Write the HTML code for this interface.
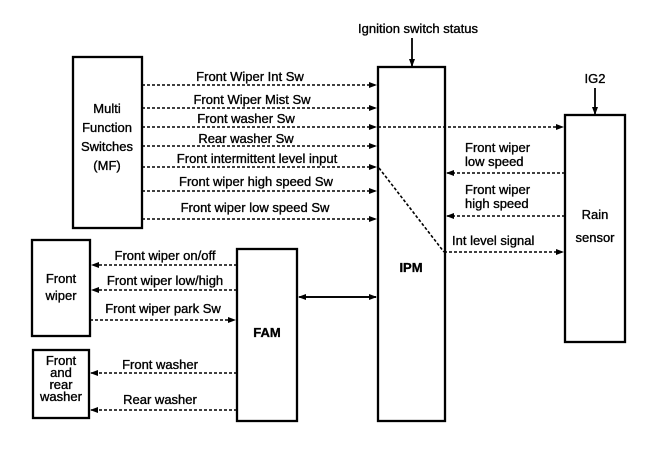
<!DOCTYPE html>
<html><head><meta charset="utf-8"><style>
html,body{margin:0;padding:0;background:#fff;}
svg{display:block;}
text{font-family:"Liberation Sans",sans-serif;font-size:13px;fill:#000;stroke:#000;stroke-width:0.35;}
</style></head><body>
<svg width="672" height="450" viewBox="0 0 672 450" xmlns="http://www.w3.org/2000/svg">
<defs>
<marker id="a" markerWidth="8" markerHeight="6" refX="7" refY="3" orient="auto" markerUnits="userSpaceOnUse"><path d="M0,0 L8,3 L0,6 z" fill="#000"/></marker>
</defs>
<g fill="none" stroke="#000" stroke-width="2.3">
<rect x="73" y="57" width="69" height="171"/>
<rect x="378" y="67" width="67" height="354"/>
<rect x="565" y="115" width="60" height="227"/>
<rect x="32" y="240" width="58" height="96"/>
<rect x="237" y="249" width="60" height="172"/>
<rect x="33" y="350" width="56" height="68"/>
</g>
<g stroke="#000" stroke-width="1.6" stroke-dasharray="3,2" fill="none">
<line x1="142" y1="85" x2="376" y2="85" marker-end="url(#a)"/>
<line x1="142" y1="108" x2="376" y2="108" marker-end="url(#a)"/>
<line x1="142" y1="127" x2="376" y2="127" marker-end="url(#a)"/>
<line x1="378" y1="127" x2="563" y2="127" marker-end="url(#a)"/>
<line x1="142" y1="146" x2="376" y2="146" marker-end="url(#a)"/>
<line x1="142" y1="167" x2="376" y2="167" marker-end="url(#a)"/>
<line x1="142" y1="191" x2="376" y2="191" marker-end="url(#a)"/>
<line x1="142" y1="219" x2="376" y2="219" marker-end="url(#a)"/>
<line x1="379" y1="168" x2="444" y2="252"/>
<line x1="444" y1="252" x2="563" y2="252" marker-end="url(#a)"/>
<line x1="565" y1="173" x2="447" y2="173" marker-end="url(#a)"/>
<line x1="565" y1="216" x2="447" y2="216" marker-end="url(#a)"/>
<line x1="237" y1="265" x2="92" y2="265" marker-end="url(#a)"/>
<line x1="237" y1="290" x2="92" y2="290" marker-end="url(#a)"/>
<line x1="90" y1="320" x2="235" y2="320" marker-end="url(#a)"/>
<line x1="237" y1="373" x2="91" y2="373" marker-end="url(#a)"/>
<line x1="237" y1="410" x2="91" y2="410" marker-end="url(#a)"/>
</g>
<g stroke="#000" stroke-width="1.8" fill="none">
<line x1="300" y1="297" x2="376" y2="297" marker-end="url(#a)"/>
<line x1="376" y1="297" x2="299" y2="297" marker-end="url(#a)"/>
<line x1="412" y1="38" x2="412" y2="66" marker-end="url(#a)"/>
<line x1="595" y1="88" x2="595" y2="114" marker-end="url(#a)"/>
</g>
<text x="418" y="33" text-anchor="middle">Ignition switch status</text>
<text x="595" y="83" text-anchor="middle" font-size="14">IG2</text>
<text x="107" y="113" text-anchor="middle">Multi</text>
<text x="107" y="132" text-anchor="middle">Function</text>
<text x="107" y="151" text-anchor="middle">Switches</text>
<text x="107" y="170" text-anchor="middle">(MF)</text>
<text x="250" y="81" text-anchor="middle">Front Wiper Int Sw</text>
<text x="252" y="104" text-anchor="middle">Front Wiper Mist Sw</text>
<text x="246" y="123" text-anchor="middle">Front washer Sw</text>
<text x="246" y="143" text-anchor="middle">Rear washer Sw</text>
<text x="257" y="163" text-anchor="middle">Front intermittent level input</text>
<text x="256" y="186" text-anchor="middle">Front wiper high speed Sw</text>
<text x="255" y="212" text-anchor="middle">Front wiper low speed Sw</text>
<text x="465" y="152">Front wiper</text>
<text x="465" y="166">low speed</text>
<text x="465" y="194">Front wiper</text>
<text x="465" y="208">high speed</text>
<text x="452" y="245">Int level signal</text>
<text x="595" y="219" text-anchor="middle" font-size="14">Rain</text>
<text x="595" y="242" text-anchor="middle">sensor</text>
<text x="411" y="272" text-anchor="middle" font-size="18" font-weight="bold">IPM</text>
<text x="267" y="337" text-anchor="middle" font-size="18" font-weight="bold">FAM</text>
<text x="61" y="283" text-anchor="middle" font-size="14">Front</text>
<text x="61" y="300" text-anchor="middle" font-size="14">wiper</text>
<text x="61" y="365" text-anchor="middle">Front</text>
<text x="61" y="377" text-anchor="middle">and</text>
<text x="61" y="389" text-anchor="middle">rear</text>
<text x="61" y="401" text-anchor="middle">washer</text>
<text x="165" y="260" text-anchor="middle">Front wiper on/off</text>
<text x="165" y="285" text-anchor="middle">Front wiper low/high</text>
<text x="163" y="313" text-anchor="middle">Front wiper park Sw</text>
<text x="160" y="369" text-anchor="middle">Front washer</text>
<text x="160" y="404" text-anchor="middle">Rear washer</text>
</svg>
</body></html>
